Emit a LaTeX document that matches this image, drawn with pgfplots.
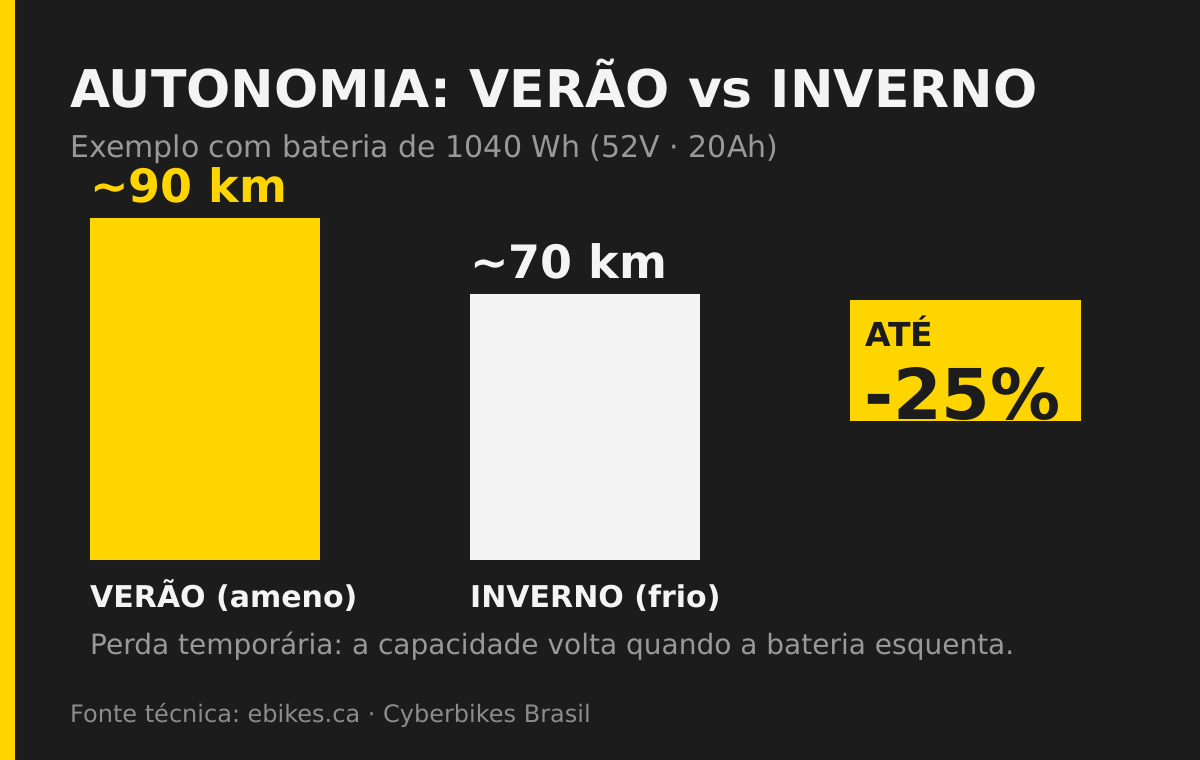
\documentclass[border=0pt]{standalone}
\usepackage{pgfplots}
\pgfplotsset{compat=1.18}
\usepackage{fontspec}
\setmainfont{DejaVu Sans}
\frenchspacing
\definecolor{bg}{HTML}{1C1C1C}
\definecolor{yel}{HTML}{FFD500}
\definecolor{wht}{HTML}{F4F4F4}
\definecolor{gry}{HTML}{999999}
\definecolor{gry2}{HTML}{8C8C8C}
\newcommand{\fs}[1]{\fontsize{#1}{#1}\selectfont}
\newcommand{\tl}{{\char"7E\relax}}
\begin{document}
\begin{tikzpicture}[x=1pt,y=1pt]
\fill[bg] (0,0) rectangle (1200,760);
\fill[yel] (0,0) rectangle (15,760);
\begin{axis}[
  at={(0,0)}, anchor=south west,
  scale only axis, width=1200pt, height=760pt,
  xmin=-0.539474, xmax=2.618421,
  ymin=-52.6316, ymax=147.3684,
  hide axis, clip=false,
  ybar, bar width=230pt, bar shift=0pt,
]
\addplot[fill=yel, draw=none] coordinates {(0,90)};
\addplot[fill=wht, draw=none] coordinates {(1,70)};
\end{axis}
% badge
\fill[yel] (850,760-421) rectangle (1081,760-300);
\begin{scope}
\clip (850,760-421) rectangle (1081,760-300);
\node[anchor=base west, inner sep=0, text=bg, font=\bfseries\fs{33}] at (865,760-347) {ATÉ};
\node[anchor=base west, inner sep=0, text=bg, font=\bfseries\fs{70}] at (864,760-420) {-25\%};
\end{scope}
% texts
\node[anchor=base west, inner sep=0, text=wht, font=\bfseries\fs{52}] at (70,760-108) {AUTONOMIA: VERÃO vs INVERNO};
\node[anchor=base west, inner sep=0, text=gry, font=\fs{30}] at (70,760-158) {Exemplo com bateria de 1040 Wh (52V · 20Ah)};
\node[anchor=base west, inner sep=0, text=yel, font=\bfseries\fs{46}] at (90,760-203) {\tl90 km};
\node[anchor=base west, inner sep=0, text=wht, font=\bfseries\fs{46}] at (470,760-279) {\tl70 km};
\node[anchor=base west, inner sep=0, text=wht, font=\bfseries\fs{30}] at (90,760-608) {VERÃO (ameno)};
\node[anchor=base west, inner sep=0, text=wht, font=\bfseries\fs{30}] at (470,760-608) {INVERNO (frio)};
\node[anchor=base west, inner sep=0, text=gry, font=\fs{28}] at (90,760-655) {Perda temporária: a capacidade volta quando a bateria esquenta.};
\node[anchor=base west, inner sep=0, text=gry2, font=\fs{24}] at (70,760-723) {Fonte técnica: ebikes.ca · Cyberbikes Brasil};
\end{tikzpicture}
\end{document}
